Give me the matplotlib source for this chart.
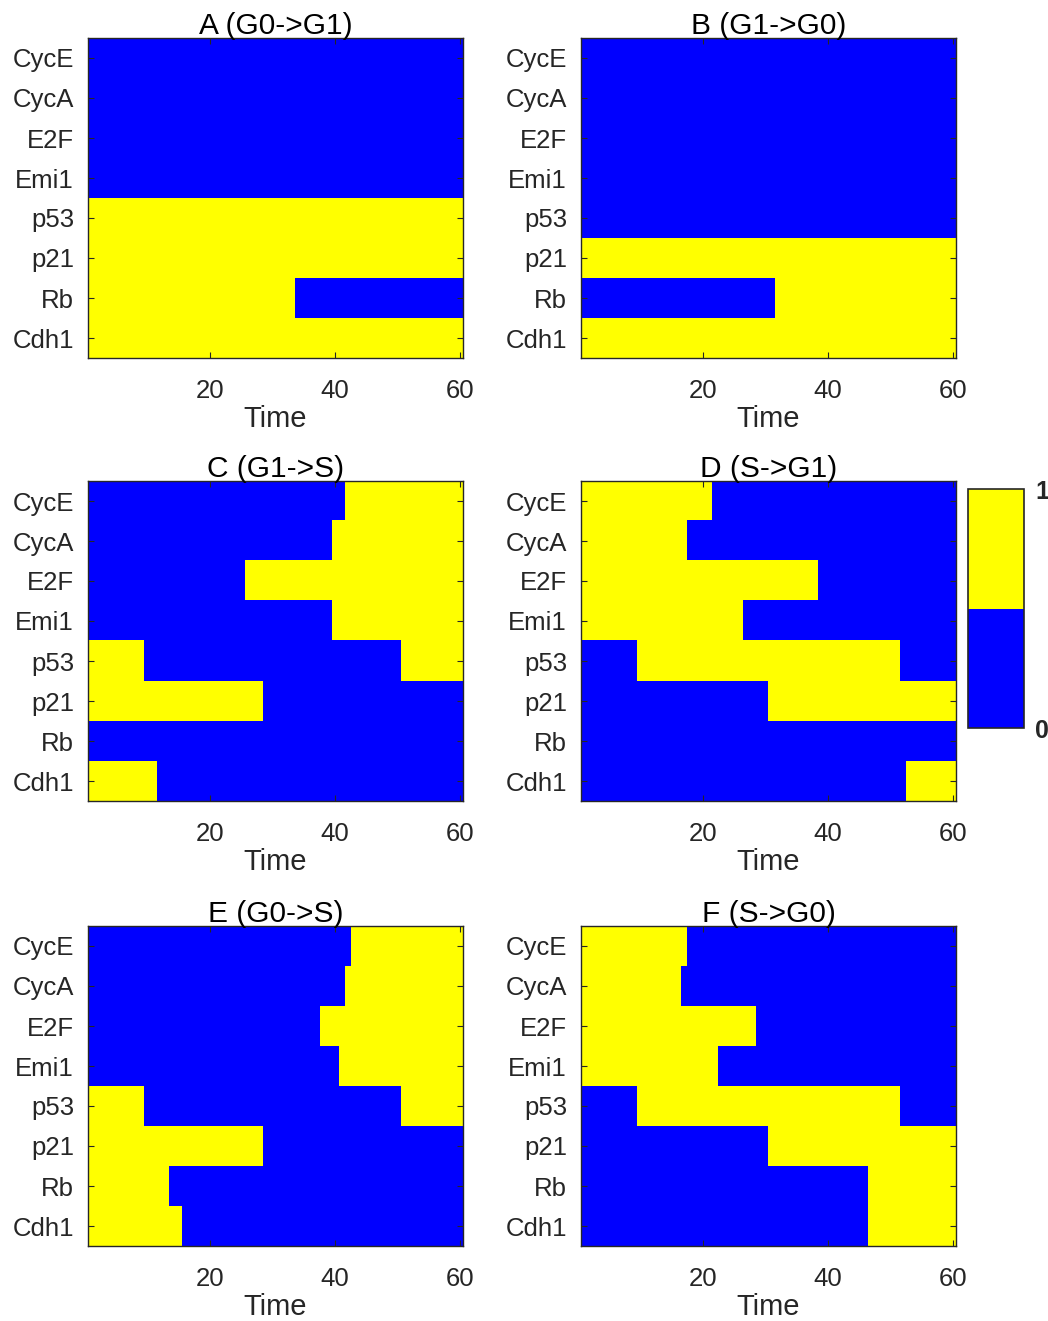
#!/usr/bin/env python3

import numpy as np
import matplotlib
matplotlib.use('Agg')
import matplotlib.pyplot as plt
from matplotlib.colors import ListedColormap

plt.rcParams['font.family'] = ['Liberation Sans', 'DejaVu Sans']

genes = ['CycE', 'CycA', 'E2F', 'Emi1', 'p53', 'p21', 'Rb', 'Cdh1']
n_steps = 60

titles = ['A (G0->G1)', 'B (G1->G0)', 'C (G1->S)', 'D (S->G1)', 'E (G0->S)', 'F (S->G0)']

# state of each gene at t=1, and the last time step before each flip
a_start = [0, 0, 0, 0, 1, 1, 1, 1]
a_flips = [[], [], [], [], [], [], [33], []]

b_start = [0, 0, 0, 0, 0, 1, 0, 1]
b_flips = [[], [], [], [], [], [], [31], []]

c_start = [0, 0, 0, 0, 1, 1, 0, 1]
c_flips = [[41], [39], [25], [39], [9, 50], [28], [], [11]]

d_start = [1, 1, 1, 1, 0, 0, 0, 0]
d_flips = [[21], [17], [38], [26], [9, 51], [30], [], [52]]

e_start = [0, 0, 0, 0, 1, 1, 1, 1]
e_flips = [[42], [41], [37], [40], [9, 50], [28], [13], [15]]

f_start = [1, 1, 1, 1, 0, 0, 0, 0]
f_flips = [[17], [16], [28], [22], [9, 51], [30], [46], [46]]

panels = [(a_start, a_flips), (b_start, b_flips), (c_start, c_flips),
          (d_start, d_flips), (e_start, e_flips), (f_start, f_flips)]


def build_states(start, flips):
    rows = []
    for s, fl in zip(start, flips):
        state = s
        row = []
        for t in range(1, n_steps + 1):
            row.append(state)
            if t in fl:
                state = 1 - state
        rows.append(row)
    return np.array(rows)


W, H = 1048, 1321
fig = plt.figure(figsize=(W / 100, H / 100), dpi=100)
cmap = ListedColormap(['#0000ff', '#ffff00'])
txt = '#262626'

lefts = [88, 581]
tops = [38, 481, 926]
ax_w, ax_h = 375, 320

im = None
for i, (start, flips) in enumerate(panels):
    col = i % 2
    row = i // 2
    ax = fig.add_axes([lefts[col] / W, 1 - (tops[row] + ax_h) / H, ax_w / W, ax_h / H])
    mat = build_states(start, flips)
    im = ax.imshow(mat, cmap=cmap, vmin=0, vmax=1, aspect='auto',
                   interpolation='nearest', extent=(0.5, n_steps + 0.5, len(genes) + 0.5, 0.5))
    ax.set_xlim(0.5, n_steps + 0.5)
    ax.set_ylim(len(genes) + 0.5, 0.5)
    ax.set_xticks([20, 40, 60])
    ax.set_yticks(range(1, len(genes) + 1))
    ax.set_yticklabels(genes)
    ax.tick_params(direction='in', length=4, width=0.8, color=txt, labelcolor=txt,
                   labelsize=18.5, top=True, right=True)
    ax.tick_params(axis='x', pad=15)
    ax.tick_params(axis='y', pad=10)
    for sp in ax.spines.values():
        sp.set_color(txt)
        sp.set_linewidth(1.0)
    ax.set_xlabel('Time', fontsize=21, color=txt, labelpad=1.5)
    ax.set_title(titles[i], fontsize=21.5, color='black', pad=3)

cax = fig.add_axes([968 / W, 1 - 728 / H, 56 / W, 239 / H])
cb = fig.colorbar(im, cax=cax, ticks=[0, 1])
cb.outline.set_edgecolor(txt)
cb.outline.set_linewidth(1.2)
cax.tick_params(length=0, pad=8, labelsize=18, labelcolor=txt)
for lab in cax.get_yticklabels():
    lab.set_fontweight('bold')

fig.savefig('out.png', dpi=100)
